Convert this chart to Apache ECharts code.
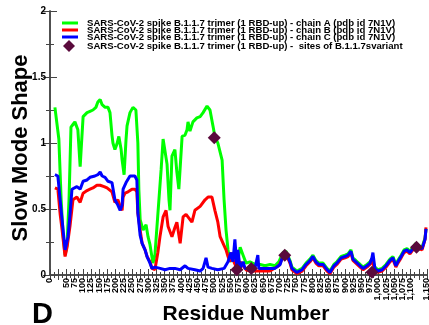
<!DOCTYPE html>
<html><head><meta charset="utf-8">
<script src="https://cdn.jsdelivr.net/npm/echarts@6/dist/echarts.min.js"></script>
<style>html,body{margin:0;padding:0;background:#fff}#c{width:429px;height:325px}</style>
</head><body><div id="c"></div>
<script>
// Residue number, slow mode shape value
const chainA = [[15,1.27],[21,1.27],[27,1.03],[34,0.57],[40,0.30],[46,0.15],[52,0.23],[58,0.57],[64,1.12],[70,1.14],[76,1.16],[82,1.16],[85,1.10],[92,0.82],[95,0.95],[101,1.20],[113,1.23],[122,1.24],[131,1.25],[140,1.27],[146,1.31],[153,1.33],[159,1.29],[168,1.27],[177,1.27],[183,1.23],[189,1.06],[192,1.00],[198,0.95],[204,0.99],[210,1.05],[217,0.95],[220,0.87],[226,0.76],[232,1.03],[235,1.13],[244,1.23],[253,1.27],[262,1.25],[265,1.24],[268,1.00],[271,0.65],[275,0.42],[284,0.34],[293,0.38],[299,0.29],[305,0.23],[314,0.09],[320,0.15],[329,0.46],[339,0.80],[345,1.03],[351,1.04],[357,0.84],[363,0.57],[366,0.49],[372,0.90],[381,0.95],[387,0.78],[393,0.65],[403,1.05],[412,1.06],[418,1.10],[421,1.16],[427,1.09],[436,1.16],[448,1.19],[458,1.20],[467,1.23],[479,1.28],[482,1.29],[488,1.25],[497,1.13],[503,1.05],[512,1.00],[525,0.87],[531,0.57],[537,0.34],[543,0.19],[549,0.10],[558,0.15],[567,0.19],[573,0.11],[580,0.21],[589,0.15],[598,0.09],[610,0.10],[625,0.08],[641,0.08],[656,0.07],[671,0.08],[686,0.07],[698,0.10],[711,0.17],[720,0.18],[732,0.11],[738,0.06],[753,0.03],[769,0.05],[781,0.09],[793,0.12],[802,0.15],[811,0.11],[820,0.09],[833,0.09],[845,0.05],[854,0.03],[866,0.08],[875,0.10],[888,0.14],[900,0.15],[909,0.16],[918,0.19],[924,0.13],[933,0.11],[946,0.08],[955,0.06],[967,0.08],[976,0.10],[982,0.12],[991,0.06],[1000,0.04],[1013,0.05],[1025,0.08],[1037,0.12],[1046,0.14],[1055,0.08],[1061,0.11],[1071,0.15],[1080,0.19],[1089,0.20],[1098,0.18],[1107,0.21],[1116,0.24],[1125,0.22],[1135,0.21],[1144,0.28],[1147,0.35]];
const chainB = [[15,0.66],[24,0.65],[31,0.46],[37,0.34],[46,0.14],[52,0.21],[61,0.37],[70,0.57],[82,0.59],[92,0.55],[101,0.62],[113,0.64],[122,0.65],[131,0.66],[143,0.68],[153,0.68],[165,0.67],[174,0.66],[189,0.63],[198,0.55],[207,0.57],[214,0.52],[220,0.49],[223,0.59],[229,0.62],[238,0.63],[250,0.65],[259,0.65],[265,0.63],[268,0.47],[275,0.34],[281,0.24],[290,0.19],[296,0.14],[305,0.10],[311,0.05],[320,0.04],[329,0.17],[336,0.30],[345,0.44],[354,0.49],[360,0.37],[366,0.33],[372,0.29],[381,0.36],[387,0.40],[397,0.24],[406,0.44],[415,0.46],[421,0.47],[433,0.40],[442,0.49],[458,0.52],[473,0.57],[482,0.59],[494,0.59],[503,0.49],[512,0.40],[519,0.29],[528,0.24],[537,0.19],[543,0.14],[549,0.10],[555,0.17],[561,0.10],[570,0.05],[580,0.10],[589,0.07],[598,0.04],[610,0.03],[641,0.03],[671,0.03],[698,0.07],[711,0.14],[720,0.16],[732,0.09],[738,0.04],[753,0.01],[769,0.03],[781,0.07],[793,0.10],[802,0.13],[811,0.09],[820,0.07],[833,0.07],[845,0.03],[854,0.01],[866,0.06],[875,0.08],[888,0.12],[900,0.13],[909,0.14],[918,0.17],[924,0.11],[933,0.09],[946,0.06],[955,0.04],[967,0.06],[976,0.08],[982,0.11],[991,0.04],[1000,0.02],[1013,0.03],[1025,0.06],[1037,0.10],[1046,0.12],[1055,0.06],[1061,0.09],[1071,0.13],[1080,0.17],[1089,0.18],[1098,0.16],[1107,0.19],[1116,0.22],[1125,0.20],[1135,0.19],[1144,0.27],[1147,0.36]];
const chainC = [[15,0.76],[24,0.75],[34,0.49],[40,0.34],[46,0.19],[55,0.29],[61,0.46],[67,0.65],[82,0.67],[92,0.65],[101,0.71],[113,0.72],[122,0.74],[137,0.75],[146,0.76],[153,0.78],[159,0.75],[168,0.74],[177,0.71],[189,0.70],[198,0.57],[207,0.53],[214,0.49],[220,0.53],[223,0.65],[232,0.70],[244,0.75],[259,0.75],[265,0.72],[268,0.47],[275,0.30],[281,0.24],[290,0.19],[296,0.14],[305,0.09],[311,0.05],[320,0.06],[336,0.05],[351,0.04],[366,0.05],[381,0.05],[397,0.04],[412,0.07],[421,0.05],[442,0.04],[458,0.03],[467,0.05],[476,0.13],[482,0.06],[494,0.05],[512,0.04],[531,0.05],[543,0.10],[552,0.17],[558,0.10],[564,0.27],[570,0.06],[573,0.19],[580,0.05],[589,0.10],[595,0.05],[610,0.05],[625,0.05],[634,0.15],[637,0.05],[656,0.05],[671,0.05],[686,0.05],[702,0.08],[711,0.15],[720,0.17],[732,0.10],[738,0.05],[753,0.02],[769,0.04],[781,0.08],[793,0.11],[802,0.14],[811,0.10],[820,0.08],[833,0.08],[845,0.04],[854,0.02],[866,0.07],[875,0.09],[888,0.13],[900,0.14],[909,0.15],[918,0.18],[924,0.12],[933,0.10],[946,0.07],[955,0.05],[967,0.07],[976,0.09],[982,0.13],[985,0.17],[991,0.05],[1000,0.03],[1013,0.04],[1025,0.07],[1037,0.11],[1046,0.13],[1055,0.07],[1061,0.10],[1071,0.14],[1080,0.18],[1089,0.19],[1098,0.17],[1107,0.20],[1116,0.23],[1125,0.21],[1135,0.20],[1144,0.27],[1147,0.35]];
const sites = [[501,1.04],[570,0.04],[614,0.05],[716,0.15],[982,0.02],[1118,0.21]];
const yTicks = [0, 0.5, 1, 1.5, 2];

const nameA = 'SARS-CoV-2 spike B.1.1.7 trimer (1 RBD-up) - chain A (pdb id 7N1V)';
const nameB = 'SARS-CoV-2 spike B.1.1.7 trimer (1 RBD-up) - chain B (pdb id 7N1V)';
const nameC = 'SARS-CoV-2 spike B.1.1.7 trimer (1 RBD-up) - chain C (pdb id 7N1V)';
const nameS = 'SARS-CoV-2 spike B.1.1.7 trimer (1 RBD-up) -  sites of B.1.1.7svariant';

const FF = '"Liberation Sans", Arial, sans-serif';
const axisCol = '#444';
const legText = {fontSize: 9.6, fontWeight: 'bold', fontFamily: FF, color: '#000', lineHeight: 7.5};

const chart = echarts.init(document.getElementById('c'), null, {renderer: 'canvas'});
const xBase = {type: 'value', min: 0, max: 1150, interval: 25,
  axisLine: {show: true, lineStyle: {color: axisCol, width: 1.5}},
  splitLine: {show: false}};
const yBase = {type: 'value', min: 0, max: 2, interval: 0.5,
  axisLine: {show: true, lineStyle: {color: axisCol, width: 1.5}},
  splitLine: {show: false}};
chart.setOption({
  animation: false,
  backgroundColor: '#fff',
  grid: {left: 50, right: 2, top: 11, bottom: 50, containLabel: false, outerBoundsMode: 'none'},
  legend: [
    {data: [nameA, nameB, nameC], orient: 'vertical', left: 62, top: 18, padding: 0,
     icon: 'rect', itemWidth: 16, itemHeight: 3, itemGap: -3, selectedMode: false,
     textStyle: Object.assign({padding: [0, 0, 0, 4]}, legText)},
    {data: [nameS], orient: 'vertical', left: 63, top: 40, padding: 0,
     itemWidth: 12, itemHeight: 12, selectedMode: false,
     textStyle: Object.assign({padding: [0, 0, 0, 7]}, legText)}
  ],
  xAxis: [
    Object.assign({}, xBase, {position: 'bottom',
      axisTick: {show: true, inside: true, length: 6, lineStyle: {color: axisCol}},
      minorTick: {show: true, splitNumber: 2, length: 3, lineStyle: {color: axisCol}},
      axisLabel: {rotate: 90, fontSize: 9, fontWeight: 'bold', fontFamily: FF, color: '#000', margin: 3, hideOverlap: false, showMinLabel: true, showMaxLabel: true},
      name: 'Residue Number', nameLocation: 'middle', nameGap: 29, nameMoveOverlap: false,
      nameTextStyle: {fontSize: 21, fontWeight: 'bold', fontFamily: FF, color: '#000', padding: [0, 0, 0, 15]}}),
    Object.assign({}, xBase, {position: 'top',
      axisTick: {show: true, inside: true, length: 5, lineStyle: {color: axisCol}},
      minorTick: {show: true, splitNumber: 2, length: 3, lineStyle: {color: axisCol}},
      axisLabel: {show: false}})
  ],
  yAxis: [
    Object.assign({}, yBase, {position: 'left',
      axisTick: {show: true, inside: true, length: 7, lineStyle: {color: axisCol}},
      minorTick: {show: true, splitNumber: 2, length: 4, lineStyle: {color: axisCol}},
      axisLabel: {fontSize: 10, fontWeight: 'bold', fontFamily: FF, color: '#000', margin: 4,
        formatter: v => (yTicks.indexOf(v) >= 0 ? String(v) : '')},
      name: 'Slow Mode Shape', nameLocation: 'middle', nameGap: 18, nameMoveOverlap: false,
      nameTextStyle: {fontSize: 22, fontWeight: 'bold', fontFamily: FF, color: '#000', padding: [0, 10, 0, 0]}}),
    Object.assign({}, yBase, {position: 'right',
      axisTick: {show: true, inside: true, length: 7, lineStyle: {color: axisCol}},
      minorTick: {show: true, splitNumber: 2, length: 4, lineStyle: {color: axisCol}},
      axisLabel: {show: false}})
  ],
  graphic: [
    {type: 'text', left: 32, top: 300, style: {text: 'D', fontSize: 29, fontWeight: 'bold', fontFamily: FF, fill: '#000'}}
  ],
  series: [
    {type: 'line', name: nameA, data: chainA, xAxisIndex: 0, yAxisIndex: 0, symbol: 'none', showSymbol: false,
     lineStyle: {color: '#00ff00', width: 3}, itemStyle: {color: '#00ff00'}, z: 2},
    {type: 'line', name: nameB, data: chainB, xAxisIndex: 0, yAxisIndex: 0, symbol: 'none', showSymbol: false,
     lineStyle: {color: '#ff0000', width: 3}, itemStyle: {color: '#ff0000'}, z: 3},
    {type: 'line', name: nameC, data: chainC, xAxisIndex: 0, yAxisIndex: 0, symbol: 'none', showSymbol: false,
     lineStyle: {color: '#0000ff', width: 3}, itemStyle: {color: '#0000ff'}, z: 4},
    {type: 'scatter', name: nameS, data: sites, xAxisIndex: 0, yAxisIndex: 0, symbol: 'diamond', symbolSize: 13,
     itemStyle: {color: '#5a0a3c', opacity: 1, borderWidth: 0}, z: 5}
  ]
});
</script>
</body></html>
